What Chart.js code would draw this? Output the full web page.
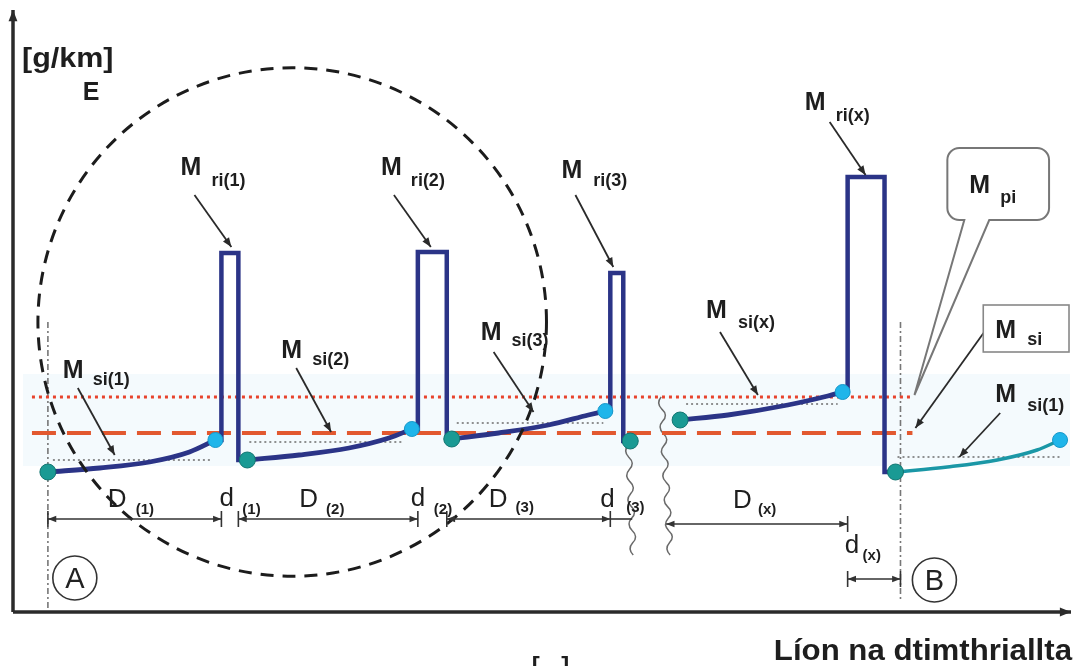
<!DOCTYPE html>
<html>
<head>
<meta charset="utf-8">
<script src="https://cdn.jsdelivr.net/npm/chart.js@4.4.1/dist/chart.umd.min.js"></script>
<style>
  html, body { margin: 0; padding: 0; background: #fff; }
  canvas { display: block; }
</style>
</head>
<body>
<canvas id="cycle-chart" width="1081" height="666"></canvas>
<script>
// emission curves per cycle (x = distance, y = emission)
const cycle1X = [35, 87, 137, 177, 203];
const cycle1Y = [140, 144, 150, 160, 172];
const cycle2X = [235, 287, 337, 377, 400];
const cycle2Y = [152, 157, 164, 174, 183];
const cycle3X = [440, 487, 537, 577, 594];
const cycle3Y = [173, 179, 187, 197, 201];
const cycleXX = [669, 717, 777, 817, 832];
const cycleXY = [192, 197, 207, 216, 220];
const nextCycleX = [885, 937, 987, 1027, 1050];
const nextCycleY = [140, 145, 152, 162, 172];

// regeneration peaks
const peakLeft = [209, 406, 599, 837];
const peakRight = [226, 435, 612, 874];
const peakTop = [359, 360, 339, 435];
const peakEndX = [235, 440, 619, 885];
const peakEndY = [152, 173, 171, 140];

// mean levels
const avgStart = [40, 237, 445, 675, 887];
const avgEnd = [200, 392, 592, 827, 1052];
const avgLevel = [152, 170, 189, 208, 155];
const levelPi = 215;
const levelSi = 179;
const levelFrom = 19;
const levelTo = 902;

// markers A and B
const pointA = 35;
const pointB = 890;

const cycles = [[cycle1X, cycle1Y], [cycle2X, cycle2Y], [cycle3X, cycle3Y], [cycleXX, cycleXY], [nextCycleX, nextCycleY]];
const pts = (xs, ys) => xs.map((x, i) => ({ x, y: ys[i] }));

const curveSets = cycles.map(([xs, ys], i) => ({
  data: pts(xs, ys),
  borderColor: i === 4 ? '#1a97a6' : '#2b3487',
  borderWidth: i === 4 ? 3.5 : 4.8,
  cubicInterpolationMode: 'monotone',
  pointRadius: 0,
  order: 1
}));

const peakSets = peakLeft.map((xl, i) => {
  const [xs, ys] = cycles[i];
  const lastY = ys[ys.length - 1];
  return {
    data: [
      { x: xs[xs.length - 1], y: lastY },
      { x: xl, y: lastY },
      { x: xl, y: peakTop[i] },
      { x: peakRight[i], y: peakTop[i] },
      { x: peakRight[i], y: peakEndY[i] },
      { x: peakEndX[i], y: peakEndY[i] }
    ],
    borderColor: '#2b3487',
    borderWidth: 4.5,
    borderJoinStyle: 'miter',
    pointRadius: 0,
    order: 1
  };
});

const avgSets = avgLevel.map((v, i) => ({
  data: [{ x: avgStart[i], y: v }, { x: avgEnd[i], y: v }],
  borderColor: '#6d6d6d',
  borderWidth: 1.6,
  borderDash: [2, 3],
  pointRadius: 0,
  order: 2
}));

const tealMarkers = cycles.map(([xs, ys]) => ({ x: xs[0], y: ys[0] }));
tealMarkers.push({ x: peakEndX[2], y: peakEndY[2] });
const cyanMarkers = cycles.map(([xs, ys]) => ({ x: xs[xs.length - 1], y: ys[ys.length - 1] }));

const datasets = [
  { data: tealMarkers, showLine: false, pointRadius: 8, pointBackgroundColor: '#1a9a94', pointBorderColor: '#127571', pointBorderWidth: 1, order: 0 },
  { data: cyanMarkers, showLine: false, pointRadius: 7.5, pointBackgroundColor: '#1fb5ea', pointBorderColor: '#1797c9', pointBorderWidth: 1, order: 0 },
  ...curveSets,
  ...peakSets,
  ...avgSets,
  { data: [{ x: levelFrom, y: levelPi }, { x: levelTo, y: levelPi }], borderColor: '#e8432c', borderWidth: 3, borderDash: [3, 4], pointRadius: 0, order: 3 },
  { data: [{ x: levelFrom, y: levelSi }, { x: levelTo, y: levelSi }], borderColor: '#e2582f', borderWidth: 4, borderDash: [24, 11], pointRadius: 0, order: 3 }
];

// annotation layout (data units)
const mLabels = [
  { sub: 'ri(1)', x: 168, y: 437, sx: 199, sy: 426 },
  { sub: 'ri(2)', x: 369, y: 437, sx: 399, sy: 426 },
  { sub: 'ri(3)', x: 550, y: 434, sx: 582, sy: 426 },
  { sub: 'ri(x)', x: 794, y: 502, sx: 825, sy: 491 },
  { sub: 'si(1)', x: 50, y: 234, sx: 80, sy: 227 },
  { sub: 'si(2)', x: 269, y: 254, sx: 300, sy: 247 },
  { sub: 'si(3)', x: 469, y: 272, sx: 500, sy: 266 },
  { sub: 'si(x)', x: 695, y: 294, sx: 727, sy: 284 },
  { sub: 'si(1)', x: 985, y: 210, sx: 1017, sy: 201 },
  { sub: 'pi', x: 959, y: 419, sx: 990, sy: 409 },
  { sub: 'si', x: 985, y: 274, sx: 1017, sy: 267 }
];
const pointers = [
  [182, 417, 219, 365], [382, 417, 419, 365], [564, 417, 602, 345], [819, 490, 855, 437],
  [65, 224, 102, 157], [284, 244, 319, 180], [482, 260, 522, 200], [709, 280, 747, 217],
  [990, 199, 949, 155], [974, 280, 905, 184]
];
const dLabels = [
  { t: 'D', sub: '(1)', x: 95, y: 105, sx: 123, sy: 98 },
  { t: 'd', sub: '(1)', x: 207, y: 106, sx: 230, sy: 98 },
  { t: 'D', sub: '(2)', x: 287, y: 105, sx: 314, sy: 98 },
  { t: 'd', sub: '(2)', x: 399, y: 106, sx: 422, sy: 98 },
  { t: 'D', sub: '(3)', x: 477, y: 105, sx: 504, sy: 100 },
  { t: 'd', sub: '(3)', x: 589, y: 105, sx: 615, sy: 100 },
  { t: 'D', sub: '(x)', x: 722, y: 104, sx: 747, sy: 98 },
  { t: 'd', sub: '(x)', x: 834, y: 59, sx: 852, sy: 52 }
];

const FONT = '"Liberation Sans", Arial, Helvetica, sans-serif';

function drawText(ctx, str, xp, yp, font, align, stretch) {
  ctx.save();
  ctx.font = font;
  ctx.textAlign = align || 'left';
  ctx.textBaseline = 'alphabetic';
  ctx.translate(xp, yp);
  ctx.scale(stretch || 1, 1);
  ctx.fillText(str, 0, 0);
  ctx.restore();
}

function arrowHead(ctx, x1, y1, x2, y2, size) {
  const a = Math.atan2(y2 - y1, x2 - x1);
  ctx.beginPath();
  ctx.moveTo(x2, y2);
  ctx.lineTo(x2 - size * Math.cos(a - 0.38), y2 - size * Math.sin(a - 0.38));
  ctx.lineTo(x2 - size * Math.cos(a + 0.38), y2 - size * Math.sin(a + 0.38));
  ctx.closePath();
  ctx.fill();
}

function arrow(ctx, x1, y1, x2, y2, size) {
  ctx.beginPath();
  ctx.moveTo(x1, y1);
  ctx.lineTo(x2, y2);
  ctx.stroke();
  arrowHead(ctx, x1, y1, x2, y2, size);
}

function wavy(ctx, xa, ya, xb, yb) {
  const n = Math.round((yb - ya) / 12);
  ctx.beginPath();
  ctx.moveTo(xa, ya);
  for (let i = 0; i < n; i++) {
    const y0 = ya + (yb - ya) * i / n;
    const y1 = ya + (yb - ya) * (i + 1) / n;
    const x1 = xa + (xb - xa) * (i + 1) / n;
    ctx.quadraticCurveTo(x1 + (i % 2 ? 6 : -6), (y0 + y1) / 2, x1, y1);
  }
  ctx.stroke();
}

const diagram = {
  id: 'diagram',
  beforeDatasetsDraw(chart) {
    const { ctx, scales: { x, y } } = chart;
    const px = v => x.getPixelForValue(v), py = v => y.getPixelForValue(v);
    ctx.save();
    // faint band behind the levels
    ctx.fillStyle = 'rgba(205, 230, 246, 0.22)';
    ctx.fillRect(px(10), py(238), px(1060) - px(10), py(146) - py(238));

    // axes
    ctx.strokeStyle = '#2b2b2b';
    ctx.fillStyle = '#2b2b2b';
    ctx.lineWidth = 3.5;
    arrow(ctx, px(0), py(0), px(0), py(602), 12);
    arrow(ctx, px(0), py(0), px(1061), py(0), 12);

    // vertical guides at A and B
    ctx.strokeStyle = '#777';
    ctx.lineWidth = 1.6;
    ctx.setLineDash([6, 3, 2, 3]);
    ctx.beginPath();
    ctx.moveTo(px(pointA), py(290)); ctx.lineTo(px(pointA), py(2));
    ctx.moveTo(px(pointB), py(290)); ctx.lineTo(px(pointB), py(12));
    ctx.stroke();
    ctx.setLineDash([]);

    // break marks
    ctx.strokeStyle = '#6a6a6a';
    ctx.lineWidth = 1.5;
    wavy(ctx, px(617), py(167), px(622), py(57));
    wavy(ctx, px(650), py(215), px(659), py(57));
    ctx.restore();
  },
  afterDatasetsDraw(chart) {
    const { ctx, scales: { x, y } } = chart;
    const px = v => x.getPixelForValue(v), py = v => y.getPixelForValue(v);
    ctx.save();

    // dashed circle
    ctx.strokeStyle = '#1c1c1c';
    ctx.lineWidth = 3;
    ctx.setLineDash([13, 9]);
    ctx.beginPath();
    ctx.arc(px(280), py(290), px(535) - px(280), 0, Math.PI * 2);
    ctx.stroke();
    ctx.setLineDash([]);

    // dimension lines
    ctx.strokeStyle = '#333';
    ctx.fillStyle = '#333';
    ctx.lineWidth = 1.6;
    const tick = (xv, yv) => {
      ctx.beginPath();
      ctx.moveTo(px(xv), py(yv) - 8); ctx.lineTo(px(xv), py(yv) + 8);
      ctx.stroke();
    };
    const dim = (xa, xb, yv, tickA) => {
      const ya = py(yv);
      ctx.beginPath(); ctx.moveTo(px(xa), ya); ctx.lineTo(px(xb), ya); ctx.stroke();
      arrowHead(ctx, px(xb), ya, px(xa), ya, 9);
      arrowHead(ctx, px(xa), ya, px(xb), ya, 9);
      if (tickA) tick(xa, yv);
      tick(xb, yv);
    };
    const starts = [pointA, peakRight[0], peakRight[1]];
    starts.forEach((s, i) => dim(s, peakLeft[i], 93, true));
    ctx.beginPath(); ctx.moveTo(px(peakLeft[2]), py(93)); ctx.lineTo(px(621), py(93)); ctx.stroke();
    dim(655, peakLeft[3], 88, false);
    dim(peakLeft[3], pointB, 33, true);

    // pointer arrows
    ctx.strokeStyle = '#2a2a2a';
    ctx.fillStyle = '#2a2a2a';
    ctx.lineWidth = 1.8;
    pointers.forEach(([a, b, c, d]) => arrow(ctx, px(a), py(b), px(c), py(d), 10));

    // callout M_pi
    {
      const x0 = px(937), x1 = px(1039), y0 = py(464), y1 = py(392), r = 12;
      ctx.beginPath();
      ctx.moveTo(x0 + r, y0);
      ctx.lineTo(x1 - r, y0); ctx.arcTo(x1, y0, x1, y0 + r, r);
      ctx.lineTo(x1, y1 - r); ctx.arcTo(x1, y1, x1 - r, y1, r);
      ctx.lineTo(px(979), y1);
      ctx.lineTo(px(904), py(217));
      ctx.lineTo(px(954), y1);
      ctx.lineTo(x0 + r, y1); ctx.arcTo(x0, y1, x0, y1 - r, r);
      ctx.lineTo(x0, y0 + r); ctx.arcTo(x0, y0, x0 + r, y0, r);
      ctx.closePath();
      ctx.fillStyle = '#fff';
      ctx.fill();
      ctx.strokeStyle = '#777';
      ctx.lineWidth = 2;
      ctx.stroke();
    }
    // box M_si
    ctx.fillStyle = '#fff';
    ctx.fillRect(px(973), py(307), px(1059) - px(973), py(260) - py(307));
    ctx.strokeStyle = '#888';
    ctx.lineWidth = 1.6;
    ctx.strokeRect(px(973), py(307), px(1059) - px(973), py(260) - py(307));

    // circled A and B
    ctx.strokeStyle = '#333';
    ctx.lineWidth = 1.6;
    [[62, 34, 'A'], [924, 32, 'B']].forEach(([cx, cy, t]) => {
      ctx.fillStyle = '#fff';
      ctx.beginPath();
      ctx.arc(px(cx), py(cy), 22, 0, Math.PI * 2);
      ctx.fill();
      ctx.stroke();
      ctx.fillStyle = '#222';
      drawText(ctx, t, px(cx), py(cy) + 10, '29px ' + FONT, 'center');
    });

    // labels
    ctx.fillStyle = '#1e1e1e';
    mLabels.forEach(l => {
      drawText(ctx, 'M', px(l.x), py(l.y), 'bold 25px ' + FONT);
      drawText(ctx, l.sub, px(l.sx), py(l.sy), 'bold 18px ' + FONT);
    });
    dLabels.forEach(l => {
      drawText(ctx, l.t, px(l.x), py(l.y), '26px ' + FONT);
      drawText(ctx, l.sub, px(l.sx), py(l.sy), 'bold 15px ' + FONT);
    });

    // axis titles
    drawText(ctx, '[g/km]', px(9), py(545), 'bold 27px ' + FONT, 'left', 1.13);
    drawText(ctx, 'E', px(70), py(512), 'bold 25px ' + FONT);
    drawText(ctx, 'Líon na dtimthriallta', px(1062), py(-48), 'bold 30px ' + FONT, 'right', 1.04);
    drawText(ctx, '[ - ]', px(539), py(-62), 'bold 24px ' + FONT, 'center');
    ctx.restore();
  }
};

new Chart(document.getElementById('cycle-chart').getContext('2d'), {
  type: 'scatter',
  data: { datasets },
  options: {
    responsive: false,
    animation: false,
    devicePixelRatio: 1,
    layout: { padding: { left: 13, right: 6, top: 12, bottom: 54 } },
    elements: { line: { tension: 0 } },
    datasets: { scatter: { showLine: true, clip: false } },
    scales: {
      x: { type: 'linear', min: 0, max: 1062, display: false },
      y: { type: 'linear', min: 0, max: 600, display: false }
    },
    plugins: { legend: { display: false }, tooltip: { enabled: false } }
  },
  plugins: [diagram]
});
</script>
</body>
</html>
